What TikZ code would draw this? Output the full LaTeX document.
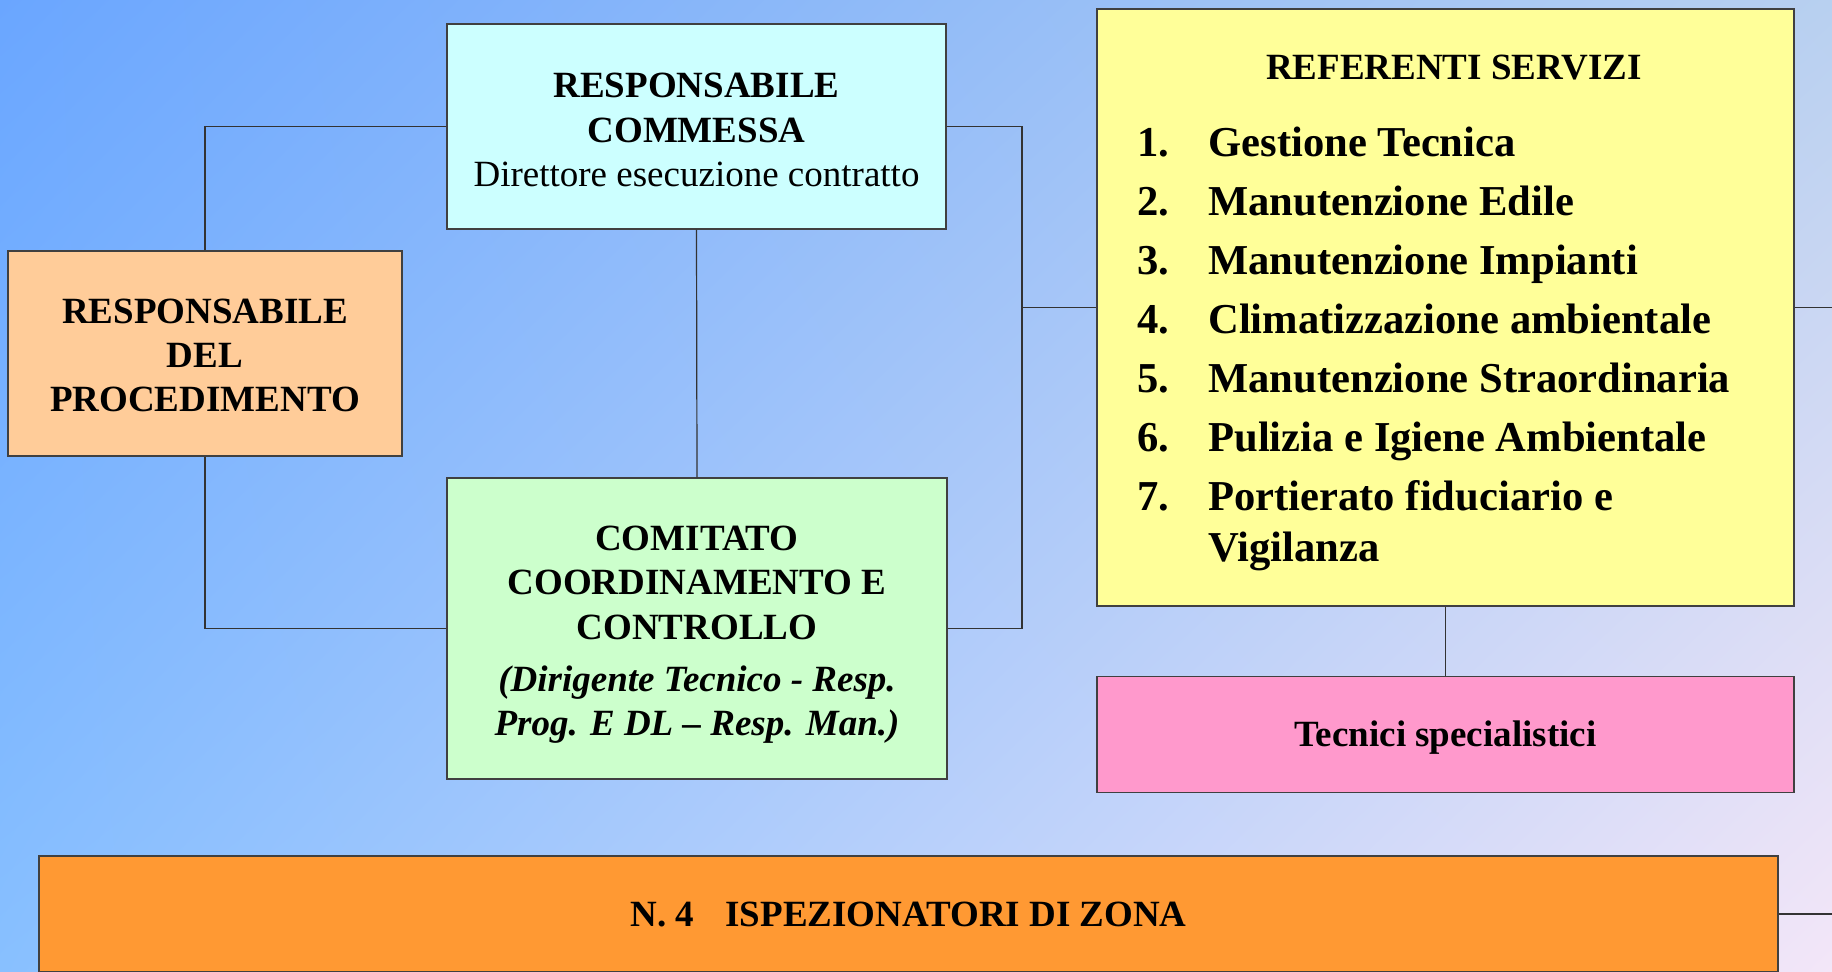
\documentclass[tikz,border=0pt]{standalone}
\usepackage{fontspec}
\setmainfont{Liberation Serif}
\usetikzlibrary{positioning, shadings}

\definecolor{bgul}{HTML}{6AA6FF}
\definecolor{bgur}{HTML}{B8D0F0}
\definecolor{bgll}{HTML}{88C0FF}
\definecolor{bglr}{HTML}{F3E6F8}
\definecolor{commcol}{HTML}{CCFFFF}
\definecolor{proccol}{HTML}{FFCC99}
\definecolor{comitcol}{HTML}{CCFFCC}
\definecolor{refcol}{HTML}{FFFF99}
\definecolor{teccol}{HTML}{FF99CC}
\definecolor{ispcol}{HTML}{FF9933}

\begin{document}
\begin{tikzpicture}[
  x=0.5pt, y=-0.5pt,
  box/.style={draw=black!75, line width=0.6pt, align=center, inner sep=0pt,
    font=\fontsize{18.5}{22.2}\selectfont\bfseries},
  listfont/.style={font=\fontsize{21.3}{25.7}\selectfont\bfseries},
  link/.style={draw=black!80, line width=0.6pt}
]

\shade[upper left=bgul, upper right=bgur, lower left=bgll, lower right=bglr] (0,0) rectangle (1832,971);
\useasboundingbox (0,0) rectangle (1832,971);
\clip (0,0) rectangle (1832,971);

\node[box, fill=commcol, minimum width=249.5pt, minimum height=102.5pt] (comm) at (696.5,126.5)
  {\rule{0pt}{15.7pt}RESPONSABILE\\COMMESSA\\{\mdseries Direttore esecuzione contratto}};
\node[box, fill=proccol, minimum width=197pt, minimum height=102.5pt] (proc) at (205,353.5)
  {\rule{0pt}{14.2pt}RESPONSABILE\\DEL\\PROCEDIMENTO};
\node[box, fill=comitcol, minimum width=250pt, minimum height=150.5pt] (comit) at (697,628.5)
  {\rule{0pt}{18.5pt}COMITATO\\COORDINAMENTO E\\CONTROLLO\\[4pt]{\itshape (Dirigente Tecnico - Resp.}\\{\itshape Prog. E DL -- Resp. Man.)}};

\node[box, fill=refcol, minimum width=348.5pt, minimum height=298.5pt] (ref) at (1445.5,307.5) {};
\node[box, draw=none] (reftitle) at (1454,68) {REFERENTI SERVIZI};
\node[listfont, anchor=base west, inner sep=0pt] (reflist) at (1137,156) {%
  \begin{tabular}[t]{@{}p{35.5pt}@{}l@{}}
    1. & Gestione Tecnica\\[3.8pt]
    2. & Manutenzione Edile\\[3.8pt]
    3. & Manutenzione Impianti\\[3.8pt]
    4. & Climatizzazione ambientale\\[3.8pt]
    5. & Manutenzione Straordinaria\\[3.8pt]
    6. & Pulizia e Igiene Ambientale\\[3.8pt]
    7. & Portierato fiduciario e\\
       & Vigilanza
  \end{tabular}};

\node[box, fill=teccol, minimum width=348.5pt, minimum height=58pt, below=34.5pt of ref] (tec)
  {\rule{0pt}{16pt}Tecnici specialistici};
\node[box, fill=ispcol, minimum width=869.5pt, minimum height=58pt] (isp) at (908.5,914)
  {N. 4\hspace{0.85em}ISPEZIONATORI DI ZONA};

\coordinate (bus) at (1022,307.5);
\coordinate (outR) at (1832,307.5);
\coordinate (outB) at (1832,914);

\draw[link] (proc.north) |- (comm.west);
\draw[link] (proc.south) |- (comit.west);
\draw[link] (comm.south) -- (comit.north);
\draw[link] (comm.east) -| (bus) |- (comit.east);
\draw[link] (bus) -- (ref.west);
\draw[link] (ref.east) -- (outR);
\draw[link] (ref.south) -- (tec.north);
\draw[link] (isp.east) -- (outB);

\end{tikzpicture}
\end{document}
